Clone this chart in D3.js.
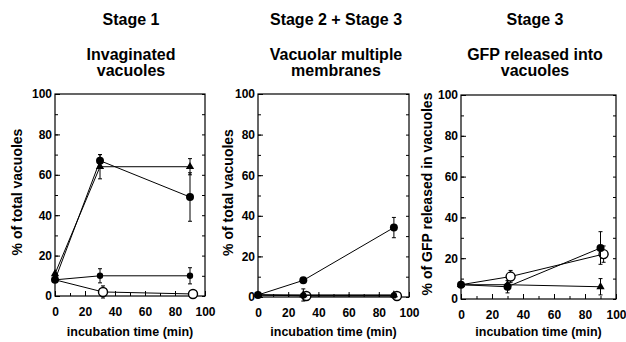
<!DOCTYPE html>
<html>
<head>
<meta charset="utf-8">
<script src="https://cdn.jsdelivr.net/npm/d3@7"></script>
<style>
  body { margin: 0; background: #fff; }
  text { font-family: "Liberation Sans", Arial, sans-serif; font-weight: bold; fill: #000; }
</style>
</head>
<body>
<div id="chart"></div>
<script>
// values
const times = [0, 30, 90]
const timesOpen = [0, 32, 92]
const xTicks = [0, 20, 40, 60, 80, 100]
const yTicks = [0, 20, 40, 60, 80, 100]

const stageTitles = ["Stage 1", "Stage 2 + Stage 3", "Stage 3"]
const subTitles = [["Invaginated", "vacuoles"], ["Vacuolar multiple", "membranes"], ["GFP released into", "vacuoles"]]
const yLabels = ["% of total vacuoles", "% of total vacuoles", "% of GFP released in vacuoles"]
const xLabel = "incubation time (min)"

// stage 1
const s1Filled = [8, 67, 49], s1FilledErr = [0, 3, 12]
const s1Tri = [11, 64, 64], s1TriErr = [0, 6, 4]
const s1Small = [8, 10, 10], s1SmallErr = [0, 3.5, 4]
const s1Open = [8, 2, 1], s1OpenErr = [0, 3, 2]
// stage 2 + 3
const s2Filled = [1, 8.2, 34.2], s2FilledErr = [0, 0, 5]
const s2Tri = [1, 1, 1], s2TriErr = [0, 3, 0]
const s2Small = [1, 0.8, 0.8], s2SmallErr = [0, 0, 0]
const s2Open = [1, 0.5, 0.5], s2OpenErr = [0, 0, 0]
// stage 3
const s3Filled = [7, 6, 25], s3FilledErr = [0, 3, 8]
const s3Tri = [7, 7, 6], s3TriErr = [0, 0, 4]
const s3Open = [7, 11, 22], s3OpenErr = [0, 3, 4]

let panels = [
    { x0: 55, x1: 205, y0: 94, y1: 296, titleX: 131, ylabX: 22, series: [
        { y: s1Open, err: s1OpenErr, mark: "open", open: true },
        { y: s1Tri, err: s1TriErr, mark: "tri" },
        { y: s1Filled, err: s1FilledErr, mark: "filled" },
        { y: s1Small, err: s1SmallErr, mark: "small" } ] },
    { x0: 258, x1: 409, y0: 94, y1: 297, titleX: 336, ylabX: 233, series: [
        { y: s2Open, err: s2OpenErr, mark: "open", open: true },
        { y: s2Filled, err: s2FilledErr, mark: "filled" },
        { y: s2Tri, err: s2TriErr, mark: "tri" },
        { y: s2Small, err: s2SmallErr, mark: "small" } ] },
    { x0: 461, x1: 616, y0: 95, y1: 299, titleX: 535, ylabX: 432, series: [
        { y: s3Open, err: s3OpenErr, mark: "open", open: true },
        { y: s3Tri, err: s3TriErr, mark: "tri" },
        { y: s3Filled, err: s3FilledErr, mark: "filled" } ] }
]

let svg = d3.select("#chart").append("svg")
    .attr("width", 626).attr("height", 342)

panels.forEach(function(p, i) {
    let x = d3.scaleLinear().domain([0, 100]).range([p.x0, p.x1])
    let y = d3.scaleLinear().domain([0, 100]).range([p.y1, p.y0])
    let g = svg.append("g")

    // titles
    g.append("text").attr("x", p.titleX).attr("y", 25).attr("text-anchor", "middle")
        .style("font-size", "16px").text(stageTitles[i])
    subTitles[i].forEach((t, j) => {
        g.append("text").attr("x", p.titleX).attr("y", 60 + j * 16).attr("text-anchor", "middle")
            .style("font-size", "16px").text(t)
    })

    // frame
    g.append("rect").attr("x", p.x0).attr("y", p.y0)
        .attr("width", p.x1 - p.x0).attr("height", p.y1 - p.y0)
        .attr("fill", "none").attr("stroke", "#000").attr("stroke-width", 1.2)

    // axes with inward ticks
    let minor = d3.range(0, 101, 10)
    g.append("g").attr("transform", `translate(0,${p.y1})`)
        .call(d3.axisBottom(x).tickValues(minor).tickSize(-3).tickFormat(""))
    g.append("g").attr("transform", `translate(0,${p.y1})`)
        .call(d3.axisBottom(x).tickValues(xTicks).tickSize(-5).tickPadding(11).tickFormat(d3.format("d")))
    g.append("g").attr("transform", `translate(${p.x0},0)`)
        .call(d3.axisLeft(y).tickValues(minor).tickSize(-3).tickFormat(""))
    g.append("g").attr("transform", `translate(${p.x0},0)`)
        .call(d3.axisLeft(y).tickValues(yTicks).tickSize(-5).tickPadding(3).tickFormat(d3.format("d")))
    g.append("g").attr("transform", `translate(${p.x1},0)`)
        .call(d3.axisRight(y).tickValues(minor).tickSize(-3).tickFormat(""))
    g.selectAll(".domain").remove()
    g.selectAll(".tick text").style("font-size", "12px")
    g.selectAll(".tick line").attr("stroke", "#000")

    // axis labels
    g.append("text").attr("x", (p.x0 + p.x1) / 2).attr("y", 336).attr("text-anchor", "middle")
        .style("font-size", "12.5px").text(xLabel)
    g.append("text").attr("transform", `translate(${p.ylabX},${(p.y0 + p.y1) / 2 - 3}) rotate(-90)`)
        .attr("text-anchor", "middle").style("font-size", "14px").text(yLabels[i])

    // series
    let tri = d3.symbol().type(d3.symbolTriangle).size(30)
    p.series.forEach(function(s) {
        let xs = s.open ? timesOpen : times
        let pts = s.y.map((v, k) => ({ t: xs[k], v: v, e: s.err[k] }))
        g.append("path").datum(pts)
            .attr("d", d3.line().x(d => x(d.t)).y(d => y(d.v)))
            .attr("fill", "none").attr("stroke", "#000").attr("stroke-width", 1)
        g.selectAll(null).data(pts.filter(d => d.e > 0)).enter().append("path")
            .attr("d", d => `M${x(d.t)},${y(d.v - d.e)}V${y(d.v + d.e)}M${x(d.t) - 2},${y(d.v - d.e)}h4M${x(d.t) - 2},${y(d.v + d.e)}h4`)
            .attr("stroke", "#000").attr("stroke-width", 1).attr("fill", "none")
        let m = g.selectAll(null).data(s.open ? pts.slice(1) : pts).enter()
        if (s.mark == "tri") {
            m.append("path").attr("d", tri)
                .attr("transform", d => `translate(${x(d.t)},${y(d.v)})`).attr("fill", "#000")
        } else if (s.mark == "open") {
            m.append("circle").attr("cx", d => x(d.t)).attr("cy", d => y(d.v)).attr("r", 4.5)
                .attr("fill", "#fff").attr("stroke", "#000").attr("stroke-width", 1.4)
        } else {
            m.append("circle").attr("cx", d => x(d.t)).attr("cy", d => y(d.v))
                .attr("r", s.mark == "small" ? 3.2 : 4).attr("fill", "#000")
        }
    })
})
</script>
</body>
</html>
